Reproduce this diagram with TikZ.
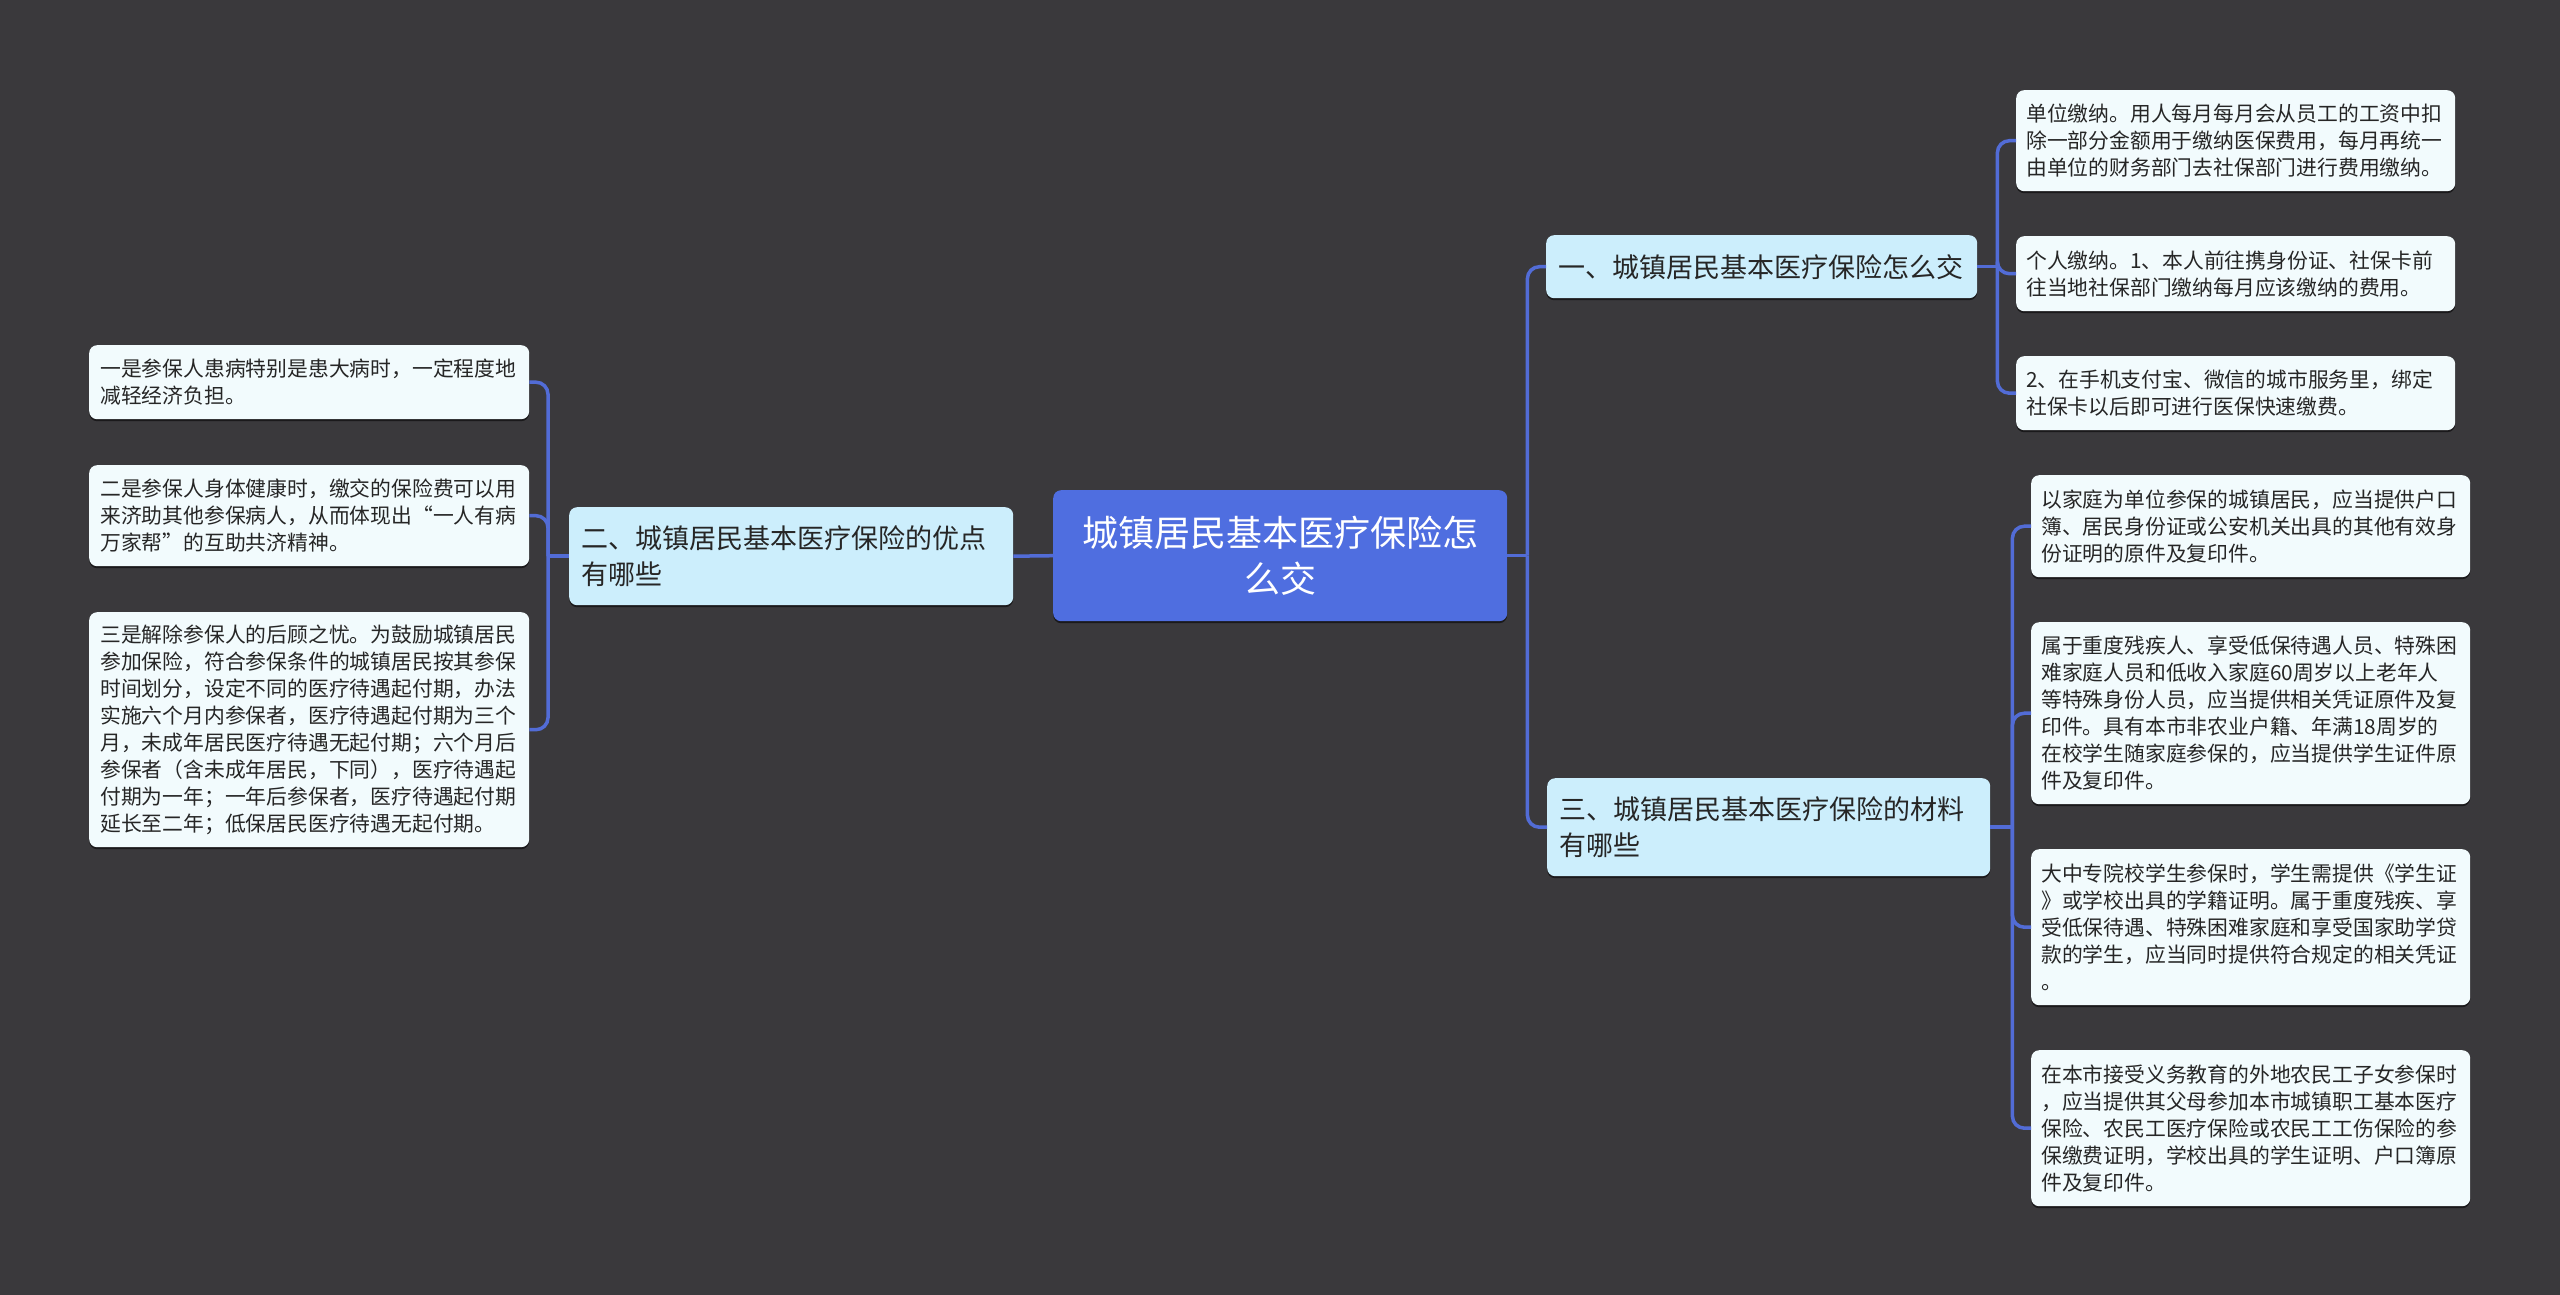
\documentclass[tikz,border=0pt]{standalone}
\usepackage{fontspec}
\newfontfamily\cjk{Noto Sans CJK SC}
\usetikzlibrary{shadows}
\definecolor{bg}{RGB}{58,57,60}
\definecolor{link}{RGB}{82,108,214}
\definecolor{rootc}{RGB}{79,110,224}
\definecolor{branchc}{RGB}{204,238,252}
\definecolor{leafc}{RGB}{242,251,253}
\definecolor{txt}{RGB}{38,38,38}
\begin{document}
\begin{tikzpicture}[x=1pt,y=-1pt,
  boxbase/.style={rounded corners=8pt, anchor=north west, inner ysep=0pt,
    drop shadow={shadow xshift=0pt, shadow yshift=-2pt, opacity=0.55, fill=black}},
  leaf/.style={boxbase, fill=leafc, text=txt, align=left, inner xsep=10pt,
    font=\cjk\fontsize{20.8}{27}\selectfont},
  leafR/.style={leaf, text width=419pt},
  leafL/.style={leaf, inner xsep=11pt, text width=418pt},
  branch/.style={boxbase, fill=branchc, text=txt, align=left, inner xsep=12pt,
    font=\cjk\fontsize{27}{36}\selectfont},
  rootbox/.style={boxbase, fill=rootc, text=white, align=center, inner xsep=10pt,
    text width=434pt, font=\cjk\fontsize{36}{46}\selectfont},
  conn/.style={draw=link, line width=3.5pt, rounded corners=12pt}
]
\fill[bg] (0,0) rectangle (2560,1295);
\useasboundingbox (0,0) rectangle (2560,1295);

% root
\node[rootbox, minimum height=131pt] (root) at (1053,490)
  {城镇居民基本医疗保险怎\\么交};

% branches
\node[branch, text width=407pt, minimum height=63pt] (b1) at (1546,235)
  {一、城镇居民基本医疗保险怎么交};
\node[branch, text width=420pt, minimum height=98pt] (b2) at (569,507)
  {二、城镇居民基本医疗保险的优点\\有哪些};
\node[branch, text width=419pt, minimum height=98pt] (b3) at (1547,778)
  {三、城镇居民基本医疗保险的材料\\有哪些};

% leaves of branch 1
\node[leafR, minimum height=101pt] (l1a) at (2016,90)
  {单位缴纳。用人每月每月会从员工的工资中扣\\除一部分金额用于缴纳医保费用，每月再统一\\由单位的财务部门去社保部门进行费用缴纳。};
\node[leafR, minimum height=75pt] (l1b) at (2016,236)
  {个人缴纳。1、本人前往携身份证、社保卡前\\往当地社保部门缴纳每月应该缴纳的费用。};
\node[leafR, minimum height=74pt] (l1c) at (2016,356)
  {2、在手机支付宝、微信的城市服务里，绑定\\社保卡以后即可进行医保快速缴费。};

% leaves of branch 2
\node[leafL, minimum height=74pt] (l2a) at (89,345)
  {一是参保人患病特别是患大病时，一定程度地\\减轻经济负担。};
\node[leafL, minimum height=101pt] (l2b) at (89,465)
  {二是参保人身体健康时，缴交的保险费可以用\\来济助其他参保病人，从而体现出“一人有病\\万家帮”的互助共济精神。};
\node[leafL, minimum height=235pt] (l2c) at (89,612)
  {三是解除参保人的后顾之忧。为鼓励城镇居民\\参加保险，符合参保条件的城镇居民按其参保\\时间划分，设定不同的医疗待遇起付期，办法\\实施六个月内参保者，医疗待遇起付期为三个\\月，未成年居民医疗待遇无起付期；六个月后\\参保者（含未成年居民，下同），医疗待遇起\\付期为一年；一年后参保者，医疗待遇起付期\\延长至二年；低保居民医疗待遇无起付期。};

% leaves of branch 3
\node[leafR, minimum height=102pt] (l3a) at (2031,475)
  {以家庭为单位参保的城镇居民，应当提供户口\\簿、居民身份证或公安机关出具的其他有效身\\份证明的原件及复印件。};
\node[leafR, minimum height=182pt] (l3b) at (2031,622)
  {属于重度残疾人、享受低保待遇人员、特殊困\\难家庭人员和低收入家庭60周岁以上老年人\\等特殊身份人员，应当提供相关凭证原件及复\\印件。具有本市非农业户籍、年满18周岁的\\在校学生随家庭参保的，应当提供学生证件原\\件及复印件。};
\node[leafR, minimum height=156pt] (l3c) at (2031,849)
  {大中专院校学生参保时，学生需提供《学生证\\》或学校出具的学籍证明。属于重度残疾、享\\受低保待遇、特殊困难家庭和享受国家助学贷\\款的学生，应当同时提供符合规定的相关凭证\\。};
\node[leafR, minimum height=156pt] (l3d) at (2031,1050)
  {在本市接受义务教育的外地农民工子女参保时\\，应当提供其父母参加本市城镇职工基本医疗\\保险、农民工医疗保险或农民工工伤保险的参\\保缴费证明，学校出具的学生证明、户口簿原\\件及复印件。};

% junctions
\coordinate (j0) at ([xshift=20pt]root.east);
\coordinate (j1) at ([xshift=20pt]b1.east);
\coordinate (j2) at ([xshift=-21pt]b2.west);
\coordinate (j3) at ([xshift=22pt]b3.east);

% connectors
\draw[conn] (root.east) -- (j0);
\draw[conn] (j0) |- (b1.west);
\draw[conn] (j0) |- (b3.west);
\draw[conn] (root.west) -- (b2.east);

\draw[conn] (b1.east) -- (j1);
\draw[conn] (j1) |- (l1a.west);
\draw[conn] (j1) |- (l1b.west);
\draw[conn] (j1) |- (l1c.west);

\draw[conn] (b2.west) -- (j2);
\draw[conn] (j2) |- (l2a.east);
\draw[conn] (j2) |- (l2b.east);
\draw[conn] (j2) |- (l2c.east);

\draw[conn] (b3.east) -- (j3);
\draw[conn] (j3) |- (l3a.west);
\draw[conn] (j3) |- (l3b.west);
\draw[conn] (j3) |- (l3c.west);
\draw[conn] (j3) |- (l3d.west);
\end{tikzpicture}
\end{document}
